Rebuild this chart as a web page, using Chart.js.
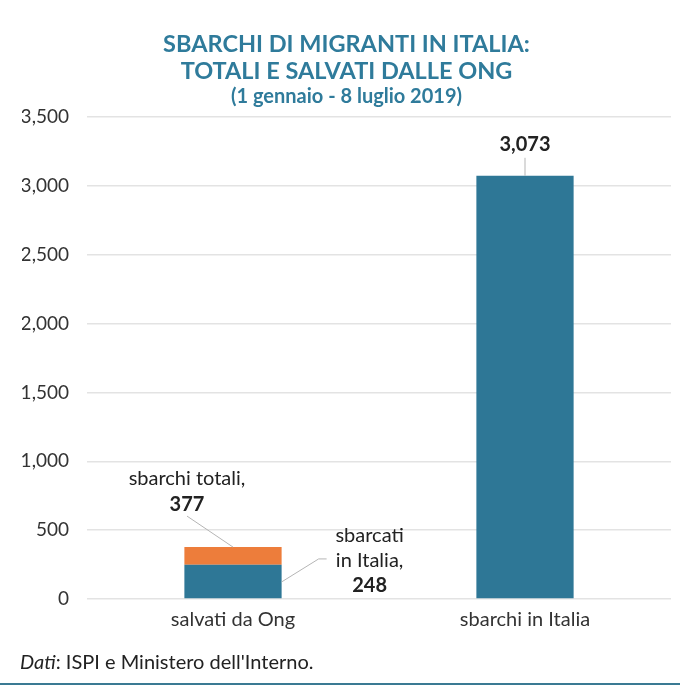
<!DOCTYPE html>
<html lang="it">
<head>
<meta charset="UTF-8">
<title>Sbarchi di migranti in Italia</title>
<style>
  html, body { margin: 0; padding: 0; background: #fff; }
  #wrap { width: 680px; height: 685px; }
</style>
</head>
<body>
<div id="wrap"><canvas id="chart" width="680" height="685"></canvas></div>
<script src="https://cdn.jsdelivr.net/npm/chart.js"></script>
<script>
// data
const categories = ['salvati da Ong', 'sbarchi in Italia'];
const sbarcati = [248, 3073];      // blue part
const nonSbarcati = [129, 0];      // orange part (377 - 248)
const totals = [377, 3073];
const yTicks = [0, 500, 1000, 1500, 2000, 2500, 3000, 3500];

const FONT = 'Lato, "Open Sans", sans-serif';
const BLUE = '#2e7796';
const ORANGE = '#ed7d3b';
const TEAL = '#2f7b9b';

const fmt = v => v.toLocaleString('en-US');

// labels with leader lines, drawn after the bars
const notes = {
  id: 'notes',
  afterDatasetsDraw(chart) {
    const { ctx, scales: { x, y } } = chart;
    ctx.save();
    ctx.strokeStyle = '#b5b5b5';
    ctx.lineWidth = 1;
    ctx.fillStyle = '#222';
    ctx.textAlign = 'center';
    ctx.textBaseline = 'middle';

    // sbarchi totali, 377
    let cx = x.getPixelForValue(0);
    let ty = y.getPixelForValue(totals[0]);
    ctx.beginPath();
    ctx.moveTo(cx, ty);
    ctx.lineTo(cx - 46, ty - 31);
    ctx.stroke();
    ctx.font = '20px ' + FONT;
    ctx.fillText('sbarchi totali,', cx - 46, ty - 69);
    ctx.font = 'bold 20px ' + FONT;
    ctx.fillText(fmt(totals[0]), cx - 46, ty - 43);

    // sbarcati in Italia, 248
    const meta = chart.getDatasetMeta(0).data[0];
    const rx = meta.x + meta.width / 2;
    const my = y.getPixelForValue(sbarcati[0] / 2);
    ctx.beginPath();
    ctx.moveTo(rx, my);
    ctx.lineTo(rx + 37, my - 23);
    ctx.lineTo(rx + 45, my - 23);
    ctx.stroke();
    ctx.font = '20px ' + FONT;
    ctx.fillText('sbarcati', rx + 88, my - 46);
    ctx.fillText('in Italia,', rx + 88, my - 21);
    ctx.font = 'bold 20px ' + FONT;
    ctx.fillText(fmt(sbarcati[0]), rx + 88, my + 4);

    // 3,073
    cx = x.getPixelForValue(1);
    ty = y.getPixelForValue(totals[1]);
    ctx.beginPath();
    ctx.moveTo(cx, ty);
    ctx.lineTo(cx, ty - 18);
    ctx.stroke();
    ctx.font = 'bold 20px ' + FONT;
    ctx.fillText(fmt(totals[1]), cx, ty - 31);
    ctx.restore();
  },
  afterDraw(chart) {
    const { ctx, width, height } = chart;
    ctx.save();
    ctx.fillStyle = '#222';
    ctx.textBaseline = 'middle';
    ctx.textAlign = 'left';
    ctx.font = 'italic 20px ' + FONT;
    ctx.fillText('Dati', 20, 663);
    const w = ctx.measureText('Dati').width;
    ctx.font = '20px ' + FONT;
    ctx.fillText(": ISPI e Ministero dell'Interno.", 20 + w, 663);
    ctx.strokeStyle = '#3a7a93';
    ctx.lineWidth = 2;
    ctx.beginPath();
    ctx.moveTo(0, height - 1);
    ctx.lineTo(width, height - 1);
    ctx.stroke();
    ctx.restore();
  }
};

new Chart(document.getElementById('chart'), {
  type: 'bar',
  data: {
    labels: categories,
    datasets: [
      { label: 'sbarcati in Italia', data: sbarcati, backgroundColor: BLUE },
      { label: 'non sbarcati', data: nonSbarcati, backgroundColor: ORANGE }
    ]
  },
  options: {
    responsive: false,
    animation: false,
    layout: { padding: { left: 22, right: 9, top: 0, bottom: 52 } },
    datasets: { bar: { barPercentage: 1, categoryPercentage: 0.333 } },
    plugins: {
      legend: { display: false },
      tooltip: { enabled: false },
      title: {
        display: true,
        text: ['SBARCHI DI MIGRANTI IN ITALIA:', 'TOTALI E SALVATI DALLE ONG'],
        color: TEAL,
        font: { family: FONT, size: 23.5, weight: 'bold', lineHeight: '27px' },
        padding: { top: 31, bottom: 0 }
      },
      subtitle: {
        display: true,
        text: '(1 gennaio - 8 luglio 2019)',
        color: TEAL,
        font: { family: FONT, size: 20, weight: 'bold', lineHeight: '24px' },
        padding: { top: 0, bottom: 8 }
      }
    },
    scales: {
      x: {
        stacked: true,
        grid: { display: false },
        border: { display: false },
        ticks: { color: '#333', font: { family: FONT, size: 20 }, padding: 1 }
      },
      y: {
        stacked: true,
        min: 0,
        max: 3500,
        afterBuildTicks: axis => { axis.ticks = yTicks.map(v => ({ value: v })); },
        afterFit: axis => { axis.width = 65; },
        grid: { color: '#e3e3e3', lineWidth: 1.5, drawTicks: false },
        border: { display: false },
        ticks: {
          color: '#333',
          font: { family: FONT, size: 19 },
          padding: 18,
          callback: v => fmt(v)
        }
      }
    }
  },
  plugins: [notes]
});
</script>
</body>
</html>
